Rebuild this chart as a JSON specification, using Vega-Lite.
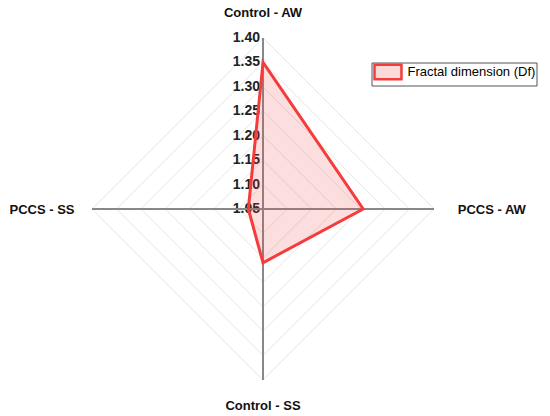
{
  "$schema": "https://vega.github.io/schema/vega-lite/v6.json",
  "width": 550,
  "height": 416,
  "autosize": {"type": "fit", "contains": "padding"},
  "padding": 0,
  "config": {"view": {"stroke": null}, "font": "Liberation Sans"},
  "datasets": {
    "df": [
      {"axis": "Control - AW", "value": 1.35, "series": "Fractal dimension (Df)"},
      {"axis": "PCCS - AW", "value": 1.255, "series": "Fractal dimension (Df)"},
      {"axis": "Control - SS", "value": 1.16, "series": "Fractal dimension (Df)"},
      {"axis": "PCCS - SS", "value": 1.08, "series": "Fractal dimension (Df)"}
    ],
    "rings": [
      {"tick": 1.05}, {"tick": 1.10}, {"tick": 1.15}, {"tick": 1.20},
      {"tick": 1.25}, {"tick": 1.30}, {"tick": 1.35}, {"tick": 1.40}
    ]
  },
  "layer": [
    {
      "data": {"name": "rings"},
      "transform": [
        {"filter": "datum.tick > 1.06"},
        {"calculate": "datum.tick - 1.05", "as": "r"},
        {"calculate": "1.05 - datum.tick", "as": "nr"},
        {"calculate": "0", "as": "z"}
      ],
      "layer": [
        {"mark": {"type": "rule", "color": "#e6e6e6", "strokeWidth": 1},
         "encoding": {
          "x": {"field": "r", "type": "quantitative", "axis": null, "scale": {"domain": [-0.5383, 0.5874], "nice": false, "zero": false}},
          "y": {"field": "z", "type": "quantitative", "axis": null, "scale": {"domain": [-0.4237, 0.4278], "nice": false, "zero": false}},
          "x2": {"field": "z"}, "y2": {"field": "r"}}},
        {"mark": {"type": "rule", "color": "#e6e6e6", "strokeWidth": 1},
         "encoding": {
          "x": {"field": "z", "type": "quantitative", "axis": null, "scale": {"domain": [-0.5383, 0.5874], "nice": false, "zero": false}},
          "y": {"field": "r", "type": "quantitative", "axis": null, "scale": {"domain": [-0.4237, 0.4278], "nice": false, "zero": false}},
          "x2": {"field": "nr"}, "y2": {"field": "z"}}},
        {"mark": {"type": "rule", "color": "#e6e6e6", "strokeWidth": 1},
         "encoding": {
          "x": {"field": "nr", "type": "quantitative", "axis": null, "scale": {"domain": [-0.5383, 0.5874], "nice": false, "zero": false}},
          "y": {"field": "z", "type": "quantitative", "axis": null, "scale": {"domain": [-0.4237, 0.4278], "nice": false, "zero": false}},
          "x2": {"field": "z"}, "y2": {"field": "nr"}}},
        {"mark": {"type": "rule", "color": "#e6e6e6", "strokeWidth": 1},
         "encoding": {
          "x": {"field": "z", "type": "quantitative", "axis": null, "scale": {"domain": [-0.5383, 0.5874], "nice": false, "zero": false}},
          "y": {"field": "nr", "type": "quantitative", "axis": null, "scale": {"domain": [-0.4237, 0.4278], "nice": false, "zero": false}},
          "x2": {"field": "r"}, "y2": {"field": "z"}}}
      ]
    },
    {
      "data": {"name": "rings"},
      "transform": [{"calculate": "datum.tick - 1.05", "as": "r"}, {"calculate": "0", "as": "z"}],
      "mark": {"type": "text", "align": "right", "baseline": "middle", "dx": -3, "fontSize": 14, "fontWeight": "bold", "color": "#222"},
      "encoding": {
        "x": {"field": "z", "type": "quantitative", "axis": null, "scale": {"domain": [-0.5383, 0.5874], "nice": false, "zero": false}},
        "y": {"field": "r", "type": "quantitative", "axis": null, "scale": {"domain": [-0.4237, 0.4278], "nice": false, "zero": false}},
        "text": {"field": "tick", "type": "quantitative", "format": ".2f"}
      }
    },
    {
      "data": {"name": "rings"},
      "transform": [
        {"filter": "datum.tick > 1.39"},
        {"calculate": "datum.tick - 1.05", "as": "r"},
        {"calculate": "1.05 - datum.tick", "as": "nr"},
        {"calculate": "0", "as": "z"}
      ],
      "layer": [
        {"mark": {"type": "rule", "color": "#888888", "strokeWidth": 2},
         "encoding": {
          "x": {"field": "nr", "type": "quantitative", "axis": null, "scale": {"domain": [-0.5383, 0.5874], "nice": false, "zero": false}},
          "y": {"field": "z", "type": "quantitative", "axis": null, "scale": {"domain": [-0.4237, 0.4278], "nice": false, "zero": false}},
          "x2": {"field": "r"}}},
        {"mark": {"type": "rule", "color": "#888888", "strokeWidth": 2},
         "encoding": {
          "x": {"field": "z", "type": "quantitative", "axis": null, "scale": {"domain": [-0.5383, 0.5874], "nice": false, "zero": false}},
          "y": {"field": "nr", "type": "quantitative", "axis": null, "scale": {"domain": [-0.4237, 0.4278], "nice": false, "zero": false}},
          "y2": {"field": "r"}}}
      ]
    },
    {
      "data": {"name": "df"},
      "transform": [
        {"calculate": "indexof(['Control - AW', 'PCCS - AW', 'Control - SS', 'PCCS - SS'], datum.axis)", "as": "i"},
        {"calculate": "(datum.value - 1.05) * sin(datum.i * PI / 2)", "as": "px"},
        {"calculate": "(datum.value - 1.05) * cos(datum.i * PI / 2)", "as": "py"}
      ],
      "layer": [
        {
          "mark": {"type": "line", "interpolate": "linear-closed", "strokeWidth": 0, "strokeOpacity": 0, "fill": "#f53c3c", "fillOpacity": 0.17},
          "encoding": {
            "x": {"field": "px", "type": "quantitative", "axis": null, "scale": {"domain": [-0.5383, 0.5874], "nice": false, "zero": false}},
            "y": {"field": "py", "type": "quantitative", "axis": null, "scale": {"domain": [-0.4237, 0.4278], "nice": false, "zero": false}},
            "order": {"field": "i", "type": "quantitative"}
          }
        },
        {
          "mark": {"type": "line", "interpolate": "linear-closed", "strokeWidth": 3},
          "encoding": {
            "x": {"field": "px", "type": "quantitative", "axis": null, "scale": {"domain": [-0.5383, 0.5874], "nice": false, "zero": false}},
            "y": {"field": "py", "type": "quantitative", "axis": null, "scale": {"domain": [-0.4237, 0.4278], "nice": false, "zero": false}},
            "order": {"field": "i", "type": "quantitative"},
            "stroke": {
              "field": "series", "type": "nominal",
              "scale": {"range": ["#f53c3c"]},
              "legend": {
                "title": null, "orient": "none", "legendX": 371.5, "legendY": 62.5,
                "padding": 1, "strokeColor": "#555555", "fillColor": "white",
                "symbolType": "M-1.86,-1H1.86V1H-1.86Z", "symbolSize": 210, "symbolStrokeWidth": 2.5,
                "symbolFillColor": "#fcd9d9", "symbolOffset": 7,
                "labelFont": "Liberation Sans", "labelFontSize": 13, "labelColor": "#000000", "labelOffset": 11
              }
            }
          }
        }
      ]
    },
    {
      "data": {"name": "df"},
      "transform": [{"filter": "datum.axis == 'Control - AW'"}],
      "mark": {"type": "text", "align": "center", "baseline": "alphabetic", "fontSize": 13, "fontWeight": "bold", "color": "#111"},
      "encoding": {
        "x": {"datum": 0, "type": "quantitative", "axis": null, "scale": {"domain": [-0.5383, 0.5874], "nice": false, "zero": false}},
        "y": {"datum": 0.3936, "type": "quantitative", "axis": null, "scale": {"domain": [-0.4237, 0.4278], "nice": false, "zero": false}},
        "text": {"field": "axis", "type": "nominal"}
      }
    },
    {
      "data": {"name": "df"},
      "transform": [{"filter": "datum.axis == 'Control - SS'"}],
      "mark": {"type": "text", "align": "center", "baseline": "alphabetic", "fontSize": 13, "fontWeight": "bold", "color": "#111"},
      "encoding": {
        "x": {"datum": 0, "type": "quantitative", "axis": null, "scale": {"domain": [-0.5383, 0.5874], "nice": false, "zero": false}},
        "y": {"datum": -0.4114, "type": "quantitative", "axis": null, "scale": {"domain": [-0.4237, 0.4278], "nice": false, "zero": false}},
        "text": {"field": "axis", "type": "nominal"}
      }
    },
    {
      "data": {"name": "df"},
      "transform": [{"filter": "datum.axis == 'PCCS - AW'"}],
      "mark": {"type": "text", "align": "left", "baseline": "alphabetic", "fontSize": 13, "fontWeight": "bold", "color": "#111"},
      "encoding": {
        "x": {"datum": 0.3985, "type": "quantitative", "axis": null, "scale": {"domain": [-0.5383, 0.5874], "nice": false, "zero": false}},
        "y": {"datum": -0.0102, "type": "quantitative", "axis": null, "scale": {"domain": [-0.4237, 0.4278], "nice": false, "zero": false}},
        "text": {"field": "axis", "type": "nominal"}
      }
    },
    {
      "data": {"name": "df"},
      "transform": [{"filter": "datum.axis == 'PCCS - SS'"}],
      "mark": {"type": "text", "align": "right", "baseline": "alphabetic", "fontSize": 13, "fontWeight": "bold", "color": "#111"},
      "encoding": {
        "x": {"datum": -0.3858, "type": "quantitative", "axis": null, "scale": {"domain": [-0.5383, 0.5874], "nice": false, "zero": false}},
        "y": {"datum": -0.0102, "type": "quantitative", "axis": null, "scale": {"domain": [-0.4237, 0.4278], "nice": false, "zero": false}},
        "text": {"field": "axis", "type": "nominal"}
      }
    }
  ]
}
